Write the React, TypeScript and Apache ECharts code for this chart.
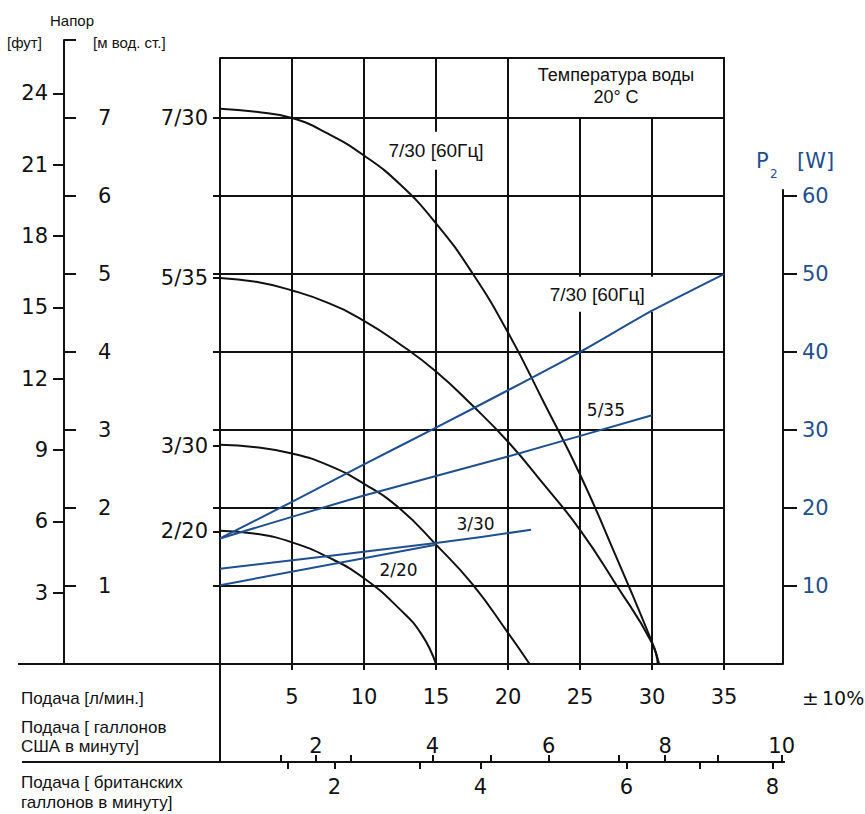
import React, { useEffect, useRef } from "react";
import * as echarts from "echarts";

const NUM_FONT = "DejaVu Sans";
const TXT_FONT = "Liberation Sans";
const INK = "#111111";
const BLUE = "#1f4f8e";

// Flow axis [л/мин]
const flowMax = 35;
const flowInterval = 5;
// Head axis [м вод. ст.]
const headMax = 7.77;
const headScaleMax = 8;
const feetPerMetre = 1 / 0.3048;
const metreTicks = [1, 2, 3, 4, 5, 6, 7];
const feetTicks = [3, 6, 9, 12, 15, 18, 21, 24];
// Power axis [W]
const powerMax = 77.7;
const powerAxisMax = 60.8;
const powerTicks = [10, 20, 30, 40, 50, 60];
// Gallon axes
const usGalRange = [-3.03, 10.04];
const usGalLabels = [2, 4, 6, 8, 10];
const usGalTicks = [1.4, 2, 2.6, 4, 5, 6, 7.2, 8, 8.9, 10];
const ukGalRange = [-2.27, 8.16];
const ukGalLabels = [2, 4, 6, 8];
const ukGalTicks = [1.36, 2, 3.17, 4, 6, 7, 8];

// Pumps
const pumpNames = ["7/30", "5/35", "3/30", "2/20"];
const pumpShutoffHead = [7.0, 4.95, 2.8, 1.7];

// Head curves [flow l/min, head m]
const head730 = [[0, 7.12], [2.5, 7.08], [5, 7.0], [7.5, 6.8], [10, 6.52], [12.5, 6.15], [15, 5.65], [17.5, 5.02], [20, 4.25], [22.5, 3.35], [25, 2.43], [27.5, 1.38], [30, 0.28], [30.5, 0]];
const head535 = [[0, 4.95], [2.5, 4.9], [5, 4.79], [7.5, 4.63], [10, 4.4], [12.5, 4.1], [15, 3.75], [17.5, 3.32], [20, 2.85], [22.5, 2.3], [25, 1.72], [27.5, 1.02], [30, 0.27], [30.4, 0]];
const head330 = [[0, 2.81], [2.5, 2.78], [5, 2.7], [7.5, 2.55], [10, 2.31], [12.5, 1.99], [15, 1.53], [17.5, 1.03], [20, 0.4], [21.5, 0]];
const head220 = [[0, 1.71], [2.5, 1.67], [5, 1.56], [7.5, 1.37], [10, 1.1], [12.5, 0.7], [14, 0.38], [15, 0]];

// Power curves [flow l/min, P2 W]
const power730 = [[0, 16.1], [5, 20.8], [10, 25.6], [15, 30.3], [20, 35.1], [25, 40.0], [30, 45.3], [35, 50]];
const power535 = [[0, 16.1], [10, 21.6], [20, 26.6], [30, 31.9]];
const power330 = [[0, 12.2], [15, 15.5], [21.6, 17.2]];
const power220 = [[0, 10.1], [15, 15.3]];

const numLabel = (size = 21) => ({ fontFamily: NUM_FONT, fontSize: size, color: INK });
const inkLine = { lineStyle: { color: INK, width: 2 } };

function markLabel(coord: number[], text: string, font: string, size: number, bg?: boolean, padding?: number[]) {
  return {
    z: 1,
    silent: true,
    symbol: "rect",
    symbolSize: 1,
    itemStyle: { color: "rgba(0,0,0,0)" },
    label: {
      show: true,
      position: "inside",
      formatter: text,
      color: INK,
      fontFamily: font,
      fontSize: size,
      backgroundColor: bg ? "#ffffff" : "transparent",
      padding: padding || 0,
    },
    data: [{ coord }],
  };
}

function headSeries(name: string, data: number[][], extra: any = {}) {
  return {
    name,
    type: "line",
    xAxisIndex: 0,
    yAxisIndex: 0,
    data,
    smooth: 0.5,
    symbol: "none",
    z: 3,
    lineStyle: { color: INK, width: 2 },
    silent: true,
    ...extra,
  };
}

function powerSeries(name: string, data: number[][], extra: any = {}) {
  return {
    name,
    type: "line",
    xAxisIndex: 0,
    yAxisIndex: 2,
    data,
    smooth: 0.2,
    symbol: "none",
    z: 3,
    lineStyle: { color: BLUE, width: 2 },
    silent: true,
    ...extra,
  };
}

function pumpLabel(v: number) {
  const i = pumpShutoffHead.findIndex((h) => Math.abs(h - v) < 1e-6);
  return i >= 0 ? pumpNames[i] : "";
}

const option: any = {
  animation: false,
  backgroundColor: "#ffffff",
  grid: [
    { left: 220, top: 58, width: 504, height: 606, outerBoundsMode: "none", containLabel: false },
    { left: 64, top: 40, width: 100, height: 624, outerBoundsMode: "none", containLabel: false },
    { left: 683, top: 190, width: 100, height: 474, outerBoundsMode: "none", containLabel: false },
    { left: 23, top: 762, width: 761, height: 0, outerBoundsMode: "none", containLabel: false },
  ],
  xAxis: [
    {
      gridIndex: 0,
      type: "value",
      position: "bottom",
      min: 0,
      max: flowMax,
      interval: flowInterval,
      axisLine: { show: true, onZero: false, ...inkLine },
      axisTick: { show: true, inside: false, length: 6, ...inkLine },
      axisLabel: { ...numLabel(21), margin: 22, showMinLabel: false },
      splitLine: { show: true, ...inkLine },
    },
    { gridIndex: 1, type: "value", show: false, min: 0, max: 1 },
    { gridIndex: 2, type: "value", show: false, min: 0, max: 1 },
    {
      gridIndex: 3,
      type: "value",
      position: "top",
      min: usGalRange[0],
      max: usGalRange[1],
      axisLine: { show: true, onZero: false, ...inkLine },
      axisTick: { show: true, length: 7, customValues: usGalTicks, ...inkLine },
      axisLabel: { ...numLabel(21), margin: 6, customValues: usGalLabels },
      splitLine: { show: false },
    },
    {
      gridIndex: 3,
      type: "value",
      position: "bottom",
      min: ukGalRange[0],
      max: ukGalRange[1],
      axisLine: { show: true, onZero: false, ...inkLine },
      axisTick: { show: true, length: 7, customValues: ukGalTicks, ...inkLine },
      axisLabel: { ...numLabel(21), margin: 14, customValues: ukGalLabels },
      splitLine: { show: false },
    },
  ],
  yAxis: [
    {
      gridIndex: 0,
      type: "value",
      position: "left",
      min: 0,
      max: headMax,
      interval: 1,
      axisLine: { show: true, onZero: false, ...inkLine },
      axisTick: { show: false },
      axisLabel: { show: false },
      splitLine: { show: true, ...inkLine },
    },
    {
      gridIndex: 0,
      type: "value",
      position: "left",
      offset: 0,
      min: 0,
      max: headMax,
      axisLine: { show: false, onZero: false },
      axisTick: { show: true, length: 7, customValues: [...metreTicks, ...pumpShutoffHead], ...inkLine },
      axisLabel: { ...numLabel(21), margin: 12, customValues: pumpShutoffHead, formatter: pumpLabel },
      splitLine: { show: false },
    },
    { gridIndex: 0, type: "value", position: "right", show: false, min: 0, max: powerMax },
    {
      gridIndex: 1,
      type: "value",
      position: "left",
      min: 0,
      max: headScaleMax,
      interval: 1,
      axisLine: { show: true, onZero: false, ...inkLine },
      axisTick: { show: true, inside: true, length: 12, ...inkLine },
      axisLabel: { ...numLabel(21), inside: true, margin: 34, customValues: metreTicks },
      splitLine: { show: false },
    },
    {
      gridIndex: 1,
      type: "value",
      position: "left",
      offset: 0,
      min: 0,
      max: headScaleMax * feetPerMetre,
      axisLine: { show: false, onZero: false },
      axisTick: { show: true, length: 11, customValues: feetTicks, ...inkLine },
      axisLabel: { ...numLabel(21), margin: 16, customValues: feetTicks },
      splitLine: { show: false },
    },
    {
      gridIndex: 2,
      type: "value",
      position: "right",
      min: 0,
      max: powerAxisMax,
      axisLine: { show: true, onZero: false, ...inkLine },
      axisTick: { show: true, length: 14, customValues: powerTicks, ...inkLine },
      axisLabel: { ...numLabel(21), color: BLUE, margin: 19, customValues: powerTicks },
      splitLine: { show: false },
    },
    { gridIndex: 3, type: "value", show: false, min: 0, max: 1 },
  ],
  series: [
    headSeries("7/30", head730, {
      markArea: {
        silent: true,
        z: 1,
        itemStyle: { color: "#ffffff", borderColor: INK, borderWidth: 2, opacity: 1 },
        label: {
          show: true,
          position: "inside",
          formatter: "Температура воды\n20° C",
          color: INK,
          fontFamily: TXT_FONT,
          fontSize: 18,
          lineHeight: 22,
          offset: [0, -2],
        },
        data: [[{ coord: [20, 7] }, { coord: [flowMax, headMax] }]],
      },
      markPoint: markLabel([15, 6.58], "7/30 [60Гц]", TXT_FONT, 19, true, [8, 2, 11, 2]),
    }),
    headSeries("5/35", head535),
    headSeries("3/30", head330),
    headSeries("2/20", head220),
    powerSeries("P 7/30", power730, {
      markPoint: markLabel([26.3, 47.4], "7/30 [60Гц]", TXT_FONT, 19, true, [10, 11, 6, 8]),
    }),
    powerSeries("P 5/35", power535, {
      markPoint: markLabel([26.8, 32.6], "5/35", NUM_FONT, 17),
    }),
    powerSeries("P 3/30", power330, {
      markPoint: markLabel([17.75, 17.9], "3/30", NUM_FONT, 17),
    }),
    powerSeries("P 2/20", power220, {
      markPoint: markLabel([12.4, 12.05], "2/20", NUM_FONT, 17),
    }),
  ],
  graphic: [
    { type: "line", silent: true, shape: { x1: 18, y1: 664, x2: 783, y2: 664 }, style: { stroke: INK, lineWidth: 2 } },
    { type: "line", silent: true, shape: { x1: 220, y1: 664, x2: 220, y2: 762 }, style: { stroke: INK, lineWidth: 2 } },
    { type: "text", x: 50, y: 20, style: { text: "Напор", fill: INK, fontFamily: TXT_FONT, fontSize: 15, verticalAlign: "middle" } },
    { type: "text", x: 7, y: 42, style: { text: "[фут]", fill: INK, fontFamily: TXT_FONT, fontSize: 15, verticalAlign: "middle" } },
    { type: "text", x: 93, y: 42, style: { text: "[м вод. ст.]", fill: INK, fontFamily: TXT_FONT, fontSize: 15, verticalAlign: "middle" } },
    { type: "text", x: 756, y: 161, style: { text: "P", fill: BLUE, fontFamily: NUM_FONT, fontSize: 21, verticalAlign: "middle" } },
    { type: "text", x: 770, y: 174, style: { text: "2", fill: BLUE, fontFamily: NUM_FONT, fontSize: 12, verticalAlign: "middle" } },
    { type: "text", x: 797, y: 161, style: { text: "[W]", fill: BLUE, fontFamily: NUM_FONT, fontSize: 21, verticalAlign: "middle" } },
    { type: "text", x: 802, y: 698, style: { text: "±", fill: INK, fontFamily: NUM_FONT, fontSize: 20, verticalAlign: "middle" } },
    { type: "text", x: 822, y: 698, style: { text: "10%", fill: INK, fontFamily: NUM_FONT, fontSize: 19, verticalAlign: "middle" } },
    { type: "text", x: 21, y: 698, style: { text: "Подача [л/мин.]", fill: INK, fontFamily: TXT_FONT, fontSize: 17, verticalAlign: "middle" } },
    { type: "text", x: 21, y: 718, style: { text: "Подача [ галлонов\nСША в минуту]", fill: INK, fontFamily: TXT_FONT, fontSize: 17, lineHeight: 19, verticalAlign: "top" } },
    { type: "text", x: 21, y: 772, style: { text: "Подача [ британских\nгаллонов в минуту]", fill: INK, fontFamily: TXT_FONT, fontSize: 17, lineHeight: 20, verticalAlign: "top" } },
  ],
};

export default function App() {
  const ref = useRef<HTMLDivElement>(null);
  useEffect(() => {
    if (!ref.current) return;
    const chart = echarts.init(ref.current, null, { renderer: "svg" });
    chart.setOption(option);
    return () => chart.dispose();
  }, []);
  return <div ref={ref} style={{ position: "absolute", left: 0, top: 0, width: 865, height: 814 }} />;
}
